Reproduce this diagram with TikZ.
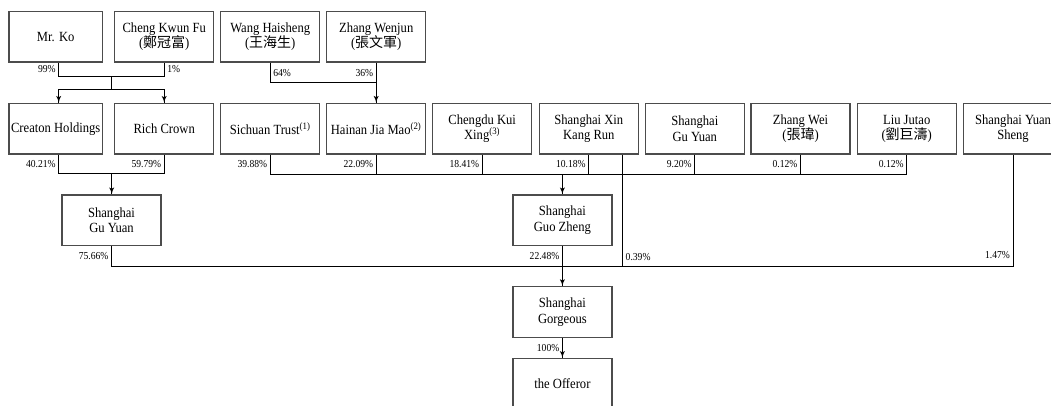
\documentclass[tikz,border=0pt]{standalone}
\usepackage{fontspec}
\setmainfont{Liberation Serif}[FakeStretch=0.9]
\newfontfamily\cjk{Noto Sans CJK TC}
\usepackage{tikz}
\usetikzlibrary{arrows}
\usetikzlibrary{decorations.markings}
\tikzset{->/.style = {decoration={markings,
                                  mark=at position 1 with {\arrow[scale=1.1]{latex'}}},
                      postaction={decorate}}}
\tikzset{entity/.style = {draw=black!70, line width=1pt, minimum width=74.25pt,
                          minimum height=38pt, inner sep=1pt, align=center,
                          font=\fontsize{10.5}{11.5}\selectfont}}
\tikzset{pct/.style = {font=\fontsize{8}{9}\selectfont, inner sep=2pt}}
\tikzset{link/.style = {line width=0.6pt}}

\begin{document}
\begin{tikzpicture}[x=0.75pt, y=-0.75pt]
          \useasboundingbox (0, 0) rectangle (1051, 405);

          % first row
          \node [entity, minimum width=70pt] (ko) at (55.7, 36.8) {Mr. Ko};
          \node [entity] (cheng) at (164.2, 36.8) {Cheng Kwun Fu\\({\cjk 鄭冠富})};
          \node [entity] (wang) at (270.2, 36.8) {Wang Haisheng\\({\cjk 王海生})};
          \node [entity] (wenjun) at (376.2, 36.8) {Zhang Wenjun\\({\cjk 張文軍})};

          % second row
          \node [entity, minimum width=70pt] (creaton) at (55.7, 128.7) {Creaton Holdings};
          \node [entity] (rich) at (164.2, 128.7) {Rich Crown};
          \node [entity] (sichuan) at (270.2, 128.7) {Sichuan Trust\textsuperscript{(1)}};
          \node [entity] (hainan) at (376.2, 128.7) {Hainan Jia Mao\textsuperscript{(2)}};
          \node [entity] (chengdu) at (482.2, 128.7) {Chengdu Kui\\Xing\textsuperscript{(3)}};
          \node [entity] (xinkang) at (588.8, 128.7) {Shanghai Xin\\Kang Run};
          \node [entity] (guyuan) at (694.8, 128.7) {Shanghai\\Gu Yuan};
          \node [entity] (zhangwei) at (800.5, 128.7) {Zhang Wei\\({\cjk 張瑋})};
          \node [entity] (liu) at (906.7, 128.7) {Liu Jutao\\({\cjk 劉巨濤})};
          \node [entity] (yuansheng) at (1013, 128.7) {Shanghai Yuan\\Sheng};

          % lower rows
          \node [entity] (guyuanB) at (111.5, 220.2) {Shanghai\\Gu Yuan};
          \node [entity] (guozheng) at (562.4, 220.2) {Shanghai\\Guo Zheng};
          \node [entity] (gorgeous) at (562.4, 312) {Shanghai\\Gorgeous};
          \node [entity] (offeror) at (562.4, 383.8) {the Offeror};

          \coordinate (yA) at (0, 76);
          \coordinate (yF) at (0, 89.3);
          \coordinate (yB) at (0, 82.7);
          \coordinate (yC) at (0, 173.7);
          \coordinate (yD) at (0, 174);
          \coordinate (yE) at (0, 266);
          \coordinate (mid) at (111.7, 0);

          \draw [link] ([xshift=2.25pt]ko.south) -- node [pct, left] (p99) {99\%} ([xshift=2.25pt]ko.south |- yA)
                -- (cheng.south |- yA) -- node [pct, right] (p1) {1\%} (cheng.south);
          \draw [link] (mid |- yA) -- (mid |- yF);
          \draw [link, ->] (mid |- yF) -| ([xshift=2.25pt]creaton.north);
          \draw [link, ->] (mid |- yF) -| (rich.north);

          \draw [link] (wang.south) -- node [pct, right] (p64) {64\%} (wang.south |- yB) -- (wenjun.south |- yB);
          \draw [link, ->] (wenjun.south) -- node [pct, left, pos=0.25] (p36) {36\%} (hainan.north);

          \draw [link] ([xshift=2.25pt]creaton.south) -- node [pct, left] (p4021) {40.21\%} ([xshift=2.25pt]creaton.south |- yC)
                -- (rich.south |- yC) -- node [pct, left] (p5979) {59.79\%} (rich.south);
          \draw [link, ->] (mid |- yC) -- (guyuanB.north -| mid);

          \draw [link] (sichuan.south) -- node [pct, left] (p3988) {39.88\%} (sichuan.south |- yD)
                -- (liu.south |- yD) -- node [pct, left] (p012b) {0.12\%} (liu.south);
          \draw [link] (hainan.south) -- node [pct, left] (p2209) {22.09\%} (hainan.south |- yD);
          \draw [link] (chengdu.south) -- node [pct, left] (p1841) {18.41\%} (chengdu.south |- yD);
          \draw [link] (xinkang.south) -- node [pct, left] (p1018) {10.18\%} (xinkang.south |- yD);
          \draw [link] (guyuan.south) -- node [pct, left] (p920) {9.20\%} (guyuan.south |- yD);
          \draw [link] (zhangwei.south) -- node [pct, left] (p012a) {0.12\%} (zhangwei.south |- yD);
          \draw [link, ->] (guozheng.north |- yD) -- (guozheng.north);

          \draw [link] (guyuanB.south) -- node [pct, left] (p7566) {75.66\%} (guyuanB.south |- yE)
                -- (yuansheng.south |- yE) -- node [pct, left, pos=0.1] (p147) {1.47\%} (yuansheng.south);
          \draw [link] ([xshift=25.4pt]xinkang.south) -- node [pct, right, pos=0.92] (p039) {0.39\%} ([xshift=25.4pt]xinkang.south |- yE);
          \draw [link, ->] (guozheng.south) -- node [pct, left, pos=0.25] (p2248) {22.48\%} (gorgeous.north);
          \draw [link, ->] (gorgeous.south) -- node [pct, left] (p100) {100\%} (offeror.north);
        \end{tikzpicture}
\end{document}
